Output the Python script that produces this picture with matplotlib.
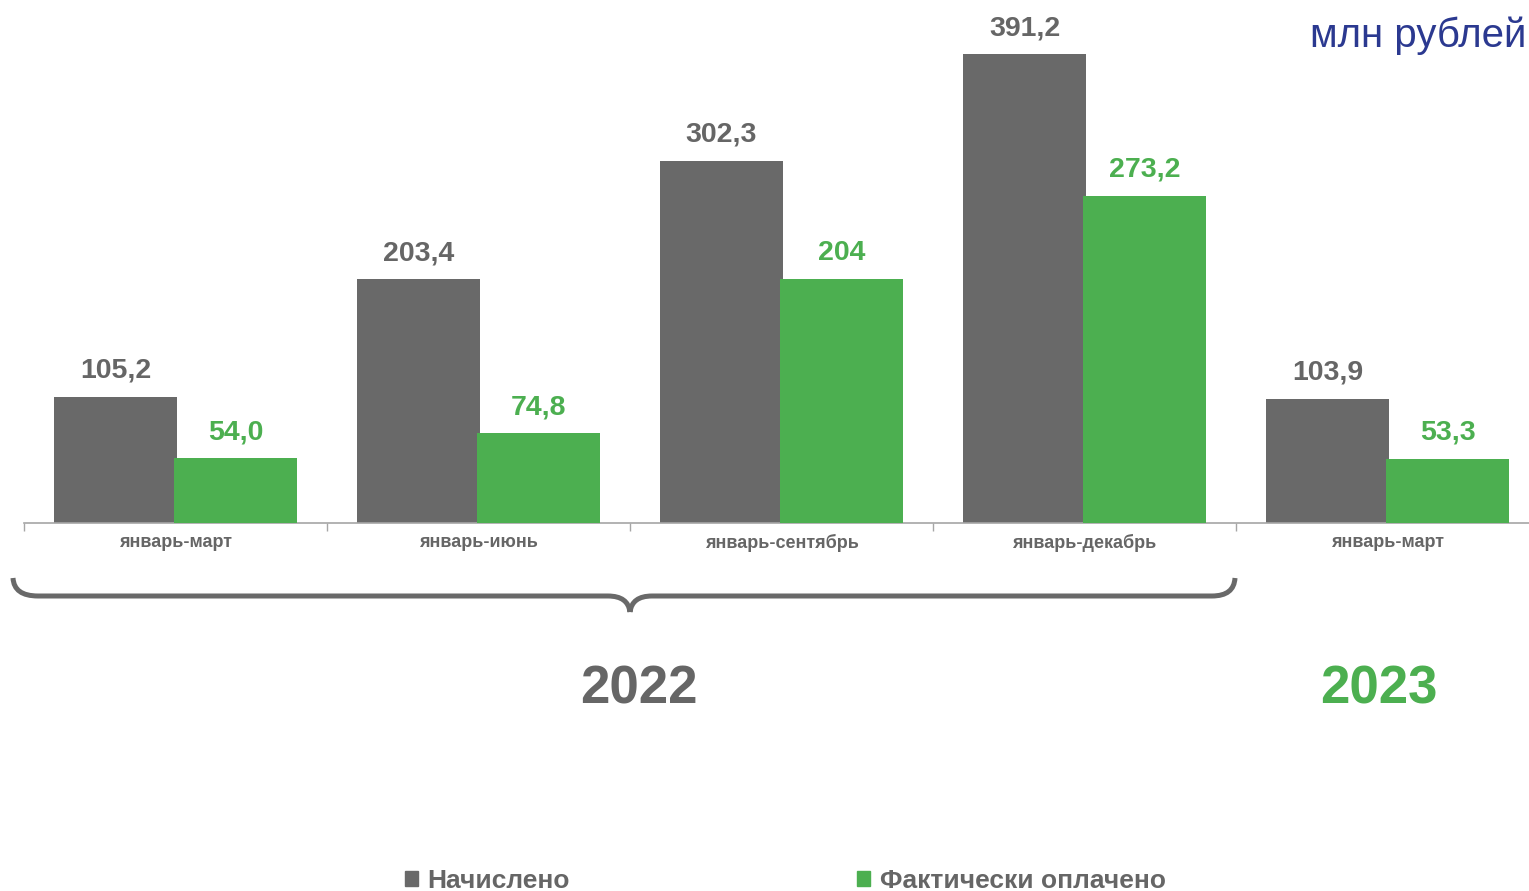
import matplotlib
matplotlib.use("Agg")
import matplotlib.pyplot as plt
import numpy as np
from matplotlib.path import Path
from matplotlib.patches import PathPatch, Patch

# data
periods = ['январь-март', 'январь-июнь', 'январь-сентябрь', 'январь-декабрь', 'январь-март']
accrued = [105.2, 203.4, 302.3, 391.2, 103.9]
paid = [54.0, 74.8, 204.0, 273.2, 53.3]
accrued_labels = ['105,2', '203,4', '302,3', '391,2', '103,9']
paid_labels = ['54,0', '74,8', '204', '273,2', '53,3']
years = ['2022', '2023']
series_names = ['Начислено', 'Фактически оплачено']

GRAY = '#696969'
GREEN = '#4caf50'
TEXT_GRAY = '#666666'
BLUE = '#2b3990'

plt.rcParams['font.family'] = ['Liberation Sans', 'DejaVu Sans']

fig = plt.figure(figsize=(15.29, 8.91), dpi=100)
W, H = 1529, 891
ax = fig.add_axes([24 / W, (H - 523) / H, 1 - 24 / W, 503 / H])

x = np.arange(len(periods))
w = 0.406
off = 0.198
ax.bar(x - off, accrued, w, color=GRAY, zorder=2)
ax.bar(x + off, paid, w, color=GREEN, zorder=3)

# value labels above the bars
for xi, v, lab in zip(x, accrued, accrued_labels):
    ax.text(xi - off, v + 11, lab, ha='center', va='bottom', fontsize=20.5,
            fontweight='bold', color=TEXT_GRAY)
for xi, v, lab in zip(x, paid, paid_labels):
    ax.text(xi + off, v + 11, lab, ha='center', va='bottom', fontsize=20.5,
            fontweight='bold', color=GREEN)

ax.set_xlim(-0.5, 4.467)
ax.set_ylim(0, 420)
for s in ['top', 'right', 'left']:
    ax.spines[s].set_visible(False)
ax.spines['bottom'].set_color('#a6a6a6')
ax.spines['bottom'].set_linewidth(1.2)
ax.set_yticks([])
ax.set_xticks(x)
ax.set_xticklabels(periods, fontsize=13, fontweight='bold', color=TEXT_GRAY)
ax.tick_params(axis='x', which='major', length=0, pad=8)
ax.set_xticks(np.arange(len(periods)) - 0.5, minor=True)
ax.tick_params(axis='x', which='minor', length=6, color='#a6a6a6', width=1)

# overlay in pixel coords for brace, year labels and header
ov = fig.add_axes([0, 0, 1, 1])
ov.set_xlim(0, W)
ov.set_ylim(H, 0)
ov.axis('off')
ov.patch.set_alpha(0)

# curly brace under the 2022 periods
verts = [(13, 578), (14, 596), (38, 596),
         (608, 596), (628, 596), (630, 612),
         (630, 612), (632, 596), (652, 596),
         (1212, 596), (1234, 596), (1235, 578)]
codes = [Path.MOVETO, Path.CURVE3, Path.CURVE3,
         Path.LINETO, Path.CURVE3, Path.CURVE3,
         Path.MOVETO, Path.CURVE3, Path.CURVE3,
         Path.LINETO, Path.CURVE3, Path.CURVE3]
ov.add_patch(PathPatch(Path(verts, codes), fill=False, edgecolor=GRAY,
                       linewidth=3.6, capstyle='butt', joinstyle='round'))

ov.text(639, 689, years[0], ha='center', va='center', fontsize=38,
        fontweight='bold', color=TEXT_GRAY)
ov.text(1379, 689, years[1], ha='center', va='center', fontsize=38,
        fontweight='bold', color=GREEN)

ov.text(1526, 47, 'млн рублей', ha='right', va='baseline', fontsize=29,
        color=BLUE)

handles = [Patch(color=GRAY), Patch(color=GREEN)]
fig.legend(handles, series_names, loc='center', bbox_to_anchor=(785 / W, 1 - 881 / H),
           ncol=2, frameon=False, handlelength=0.5, handleheight=0.5,
           handletextpad=0.35, columnspacing=10.9, labelcolor=TEXT_GRAY,
           prop={'weight': 'bold', 'size': 19})

fig.savefig('out.png', dpi=100)
